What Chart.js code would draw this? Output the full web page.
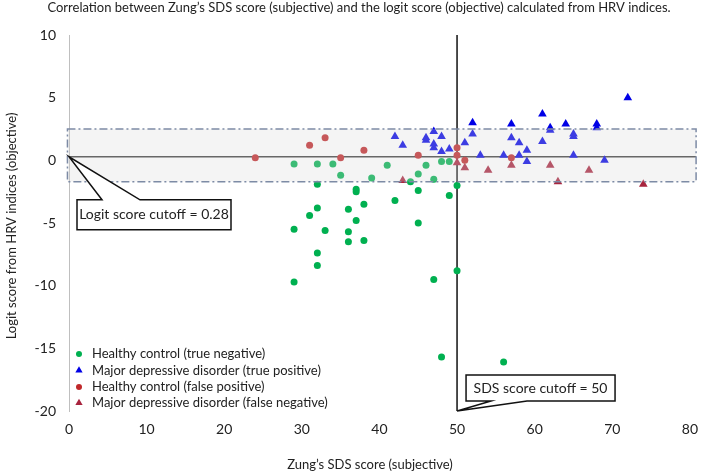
<!DOCTYPE html>
<html><head><meta charset="utf-8">
<script src="https://cdn.jsdelivr.net/npm/chart.js@4"></script>
<style>html,body{margin:0;padding:0;background:#fff}#wrap{width:708px;height:474px}</style>
</head><body><div id="wrap"><canvas id="c" width="708" height="474"></canvas></div>
<script>
// ---------- text ----------
const TITLE = "Correlation between Zung\u2019s SDS score (subjective) and the logit score (objective) calculated from HRV indices.";
const X_TITLE = "Zung\u2019s SDS score (subjective)";
const Y_TITLE = "Logit score from HRV indices (objective)";
const SERIES_LABELS = [
  "Healthy control (true negative)",
  "Major depressive disorder (true positive)",
  "Healthy control (false positive)",
  "Major depressive disorder (false negative)"
];
const LOGIT_LABEL = "Logit score cutoff = 0.28";
const SDS_LABEL = "SDS score cutoff = 50";

// ---------- axes ----------
const X_TICKS = [0, 10, 20, 30, 40, 50, 60, 70, 80];
const Y_TICKS = [-20, -15, -10, -5, 0, 5, 10];
const LOGIT_CUTOFF = 0.28;
const SDS_CUTOFF = 50;
const BAND_LOGIT = [-1.7, 2.5];
const BAND_SDS = [-0.2, 80.8];

// ---------- data ----------
const hcTrueNegSDS   = [29, 32, 34, 35, 32, 37, 37, 32, 31, 36, 37, 41, 39, 44, 45, 46, 47, 48, 49, 50, 49, 45, 42, 38, 45, 29, 33, 36, 36, 38, 32, 32, 29, 47, 50, 48, 56];
const hcTrueNegLogit = [-0.3, -0.3, -0.3, -1.2, -1.9, -2.3, -2.5, -3.8, -4.4, -3.9, -4.8, -0.4, -1.4, -1.7, -1.1, -0.4, -1.5, -0.1, -0.1, -2.0, -2.8, -2.4, -3.2, -3.5, -5.0, -5.5, -5.6, -5.7, -6.5, -6.4, -7.4, -8.4, -9.7, -9.5, -8.8, -15.7, -16.1];

const mddTruePosSDS   = [72, 61, 57, 52, 52, 62, 62, 64, 68, 68, 65, 65, 47, 48, 46, 46, 42, 43, 47, 47, 48, 49, 51, 57, 58, 61, 59, 56, 58, 53, 59, 65, 69];
const mddTruePosLogit = [5.0, 3.7, 2.9, 3.0, 2.1, 2.6, 2.4, 2.9, 2.9, 2.6, 2.1, 1.9, 2.3, 1.9, 1.8, 1.6, 1.9, 1.2, 1.3, 1.0, 0.7, 0.9, 1.4, 1.8, 1.4, 1.5, 0.8, 0.4, 0.4, 0.4, -0.1, 0.4, 0.0];

const hcFalsePosSDS   = [24, 31, 33, 35, 38, 45, 50, 50, 51, 57];
const hcFalsePosLogit = [0.2, 1.2, 1.8, 0.2, 0.8, 0.4, 1.0, 0.4, 0.0, 0.2];

const mddFalseNegSDS   = [43, 50, 51, 54, 57, 62, 63, 67, 74];
const mddFalseNegLogit = [-1.6, -0.2, -0.6, -0.8, -0.4, -0.4, -1.7, -0.8, -1.9];

const pts = (xs, ys) => xs.map((v, i) => ({x: v, y: ys[i]}));

const FONT = "Lato, 'Open Sans', sans-serif";
const TEXT = '#222';

const overlay = {
  id: 'overlay',
  beforeDatasetsDraw(chart) {
    const {ctx, scales: {x, y}, chartArea: a} = chart;
    ctx.save();
    ctx.lineWidth = 1.5;
    ctx.strokeStyle = '#3c3c3c';
    const ly = y.getPixelForValue(LOGIT_CUTOFF);
    ctx.beginPath();
    ctx.moveTo(x.getPixelForValue(0), ly);
    ctx.lineTo(x.getPixelForValue(BAND_SDS[1]), ly);
    ctx.stroke();
    ctx.strokeStyle = '#111';
    const vx = x.getPixelForValue(SDS_CUTOFF);
    ctx.beginPath();
    ctx.moveTo(vx, a.top);
    ctx.lineTo(vx, a.bottom);
    ctx.stroke();
    ctx.restore();
  },
  afterDatasetsDraw(chart) {
    const {ctx, scales: {x, y}, chartArea: a} = chart;
    ctx.save();
    // shaded band
    const bx0 = x.getPixelForValue(BAND_SDS[0]), bx1 = x.getPixelForValue(BAND_SDS[1]);
    const by0 = y.getPixelForValue(BAND_LOGIT[1]), by1 = y.getPixelForValue(BAND_LOGIT[0]);
    ctx.fillStyle = 'rgba(215,215,215,0.28)';
    ctx.fillRect(bx0, by0, bx1 - bx0, by1 - by0);
    ctx.setLineDash([8, 3, 2, 3]);
    ctx.strokeStyle = '#7d8ba5';
    ctx.lineWidth = 1.5;
    ctx.strokeRect(bx0, by0, bx1 - bx0, by1 - by0);
    ctx.setLineDash([]);

    // callout: logit cutoff
    const ax = x.getPixelForValue(0), ay = y.getPixelForValue(LOGIT_CUTOFF);
    let L = ax + 8, R = ax + 162, T = ay + 43, B = T + 30;
    ctx.beginPath();
    ctx.moveTo(L, T); ctx.lineTo(ax + 33, T); ctx.lineTo(ax, ay); ctx.lineTo(ax + 71, T);
    ctx.lineTo(R, T); ctx.lineTo(R, B); ctx.lineTo(L, B); ctx.closePath();
    ctx.fillStyle = '#fff'; ctx.fill();
    ctx.strokeStyle = '#111'; ctx.lineWidth = 1.5; ctx.stroke();
    ctx.fillStyle = TEXT; ctx.font = "14px " + FONT;
    ctx.textAlign = 'center'; ctx.textBaseline = 'middle';
    ctx.fillText(LOGIT_LABEL, (L + R) / 2, (T + B) / 2);

    // callout: SDS cutoff
    const sx = x.getPixelForValue(SDS_CUTOFF), sy = y.getPixelForValue(-20);
    L = sx + 9; R = sx + 158; T = sy - 36; B = sy - 10;
    ctx.beginPath();
    ctx.moveTo(L, T); ctx.lineTo(R, T); ctx.lineTo(R, B); ctx.lineTo(sx + 70, B);
    ctx.lineTo(sx, sy); ctx.lineTo(sx + 34, B); ctx.lineTo(L, B); ctx.closePath();
    ctx.fillStyle = '#fff'; ctx.fill();
    ctx.strokeStyle = '#111'; ctx.stroke();
    ctx.fillStyle = TEXT;
    ctx.fillText(SDS_LABEL, (L + R) / 2, (T + B) / 2);

    // legend inside plot
    ctx.font = "13px " + FONT;
    ctx.textAlign = 'left';
    const rows = [a.bottom - 57, a.bottom - 40.5, a.bottom - 24, a.bottom - 8];
    chart.data.datasets.forEach((ds, i) => {
      const mx = a.left + 10, my = rows[i];
      ctx.fillStyle = ds.backgroundColor;
      ctx.beginPath();
      if (ds.pointStyle === 'triangle') {
        const r = 4.2;
        ctx.moveTo(mx, my - r);
        ctx.lineTo(mx + r * 0.866, my + r * 0.5);
        ctx.lineTo(mx - r * 0.866, my + r * 0.5);
        ctx.closePath();
      } else {
        ctx.arc(mx, my, 3, 0, Math.PI * 2);
      }
      ctx.fill();
      ctx.fillStyle = TEXT;
      ctx.fillText(ds.label, a.left + 23, my);
    });

    // titles
    ctx.font = "13px " + FONT;
    ctx.textAlign = 'center';
    ctx.fillText(TITLE, 359, 8);
    ctx.fillText(X_TITLE, 370, 465);
    ctx.translate(12, 226);
    ctx.rotate(-Math.PI / 2);
    ctx.fillText(Y_TITLE, 0, 0);
    ctx.restore();
  }
};

new Chart(document.getElementById('c'), {
  type: 'scatter',
  data: {
    datasets: [
      {label: SERIES_LABELS[0], data: pts(hcTrueNegSDS, hcTrueNegLogit), pointStyle: 'circle', pointRadius: 3.5, backgroundColor: '#00b050', borderColor: '#00b050', borderWidth: 0},
      {label: SERIES_LABELS[1], data: pts(mddTruePosSDS, mddTruePosLogit), pointStyle: 'triangle', pointRadius: 5, backgroundColor: '#0000e6', borderColor: '#0000e6', borderWidth: 0},
      {label: SERIES_LABELS[2], data: pts(hcFalsePosSDS, hcFalsePosLogit), pointStyle: 'circle', pointRadius: 3.5, backgroundColor: '#c0282a', borderColor: '#c0282a', borderWidth: 0},
      {label: SERIES_LABELS[3], data: pts(mddFalseNegSDS, mddFalseNegLogit), pointStyle: 'triangle', pointRadius: 5, backgroundColor: '#a8243e', borderColor: '#a8243e', borderWidth: 0}
    ]
  },
  options: {
    responsive: false,
    animation: false,
    devicePixelRatio: 1,
    layout: {padding: {top: 35, right: 15, bottom: 0, left: 0}},
    plugins: {legend: {display: false}, title: {display: false}, tooltip: {enabled: false}},
    scales: {
      x: {
        type: 'linear', min: X_TICKS[0], max: X_TICKS[X_TICKS.length - 1],
        afterBuildTicks: s => { s.ticks = X_TICKS.map(v => ({value: v})); },
        ticks: {padding: 10, color: TEXT, font: {family: FONT, size: 14}},
        grid: {display: false, drawTicks: false},
        border: {display: false},
        afterFit: s => { s.height = 63; }
      },
      y: {
        type: 'linear', min: Y_TICKS[0], max: Y_TICKS[Y_TICKS.length - 1],
        afterBuildTicks: s => { s.ticks = Y_TICKS.map(v => ({value: v})); },
        ticks: {padding: 13, color: TEXT, font: {family: FONT, size: 14}},
        grid: {color: 'rgba(0,0,0,0)', drawTicks: false},
        border: {display: true, color: '#bfbfbf', width: 1},
        afterFit: s => { s.width = 69; }
      }
    }
  },
  plugins: [overlay]
});
</script>
</body></html>
